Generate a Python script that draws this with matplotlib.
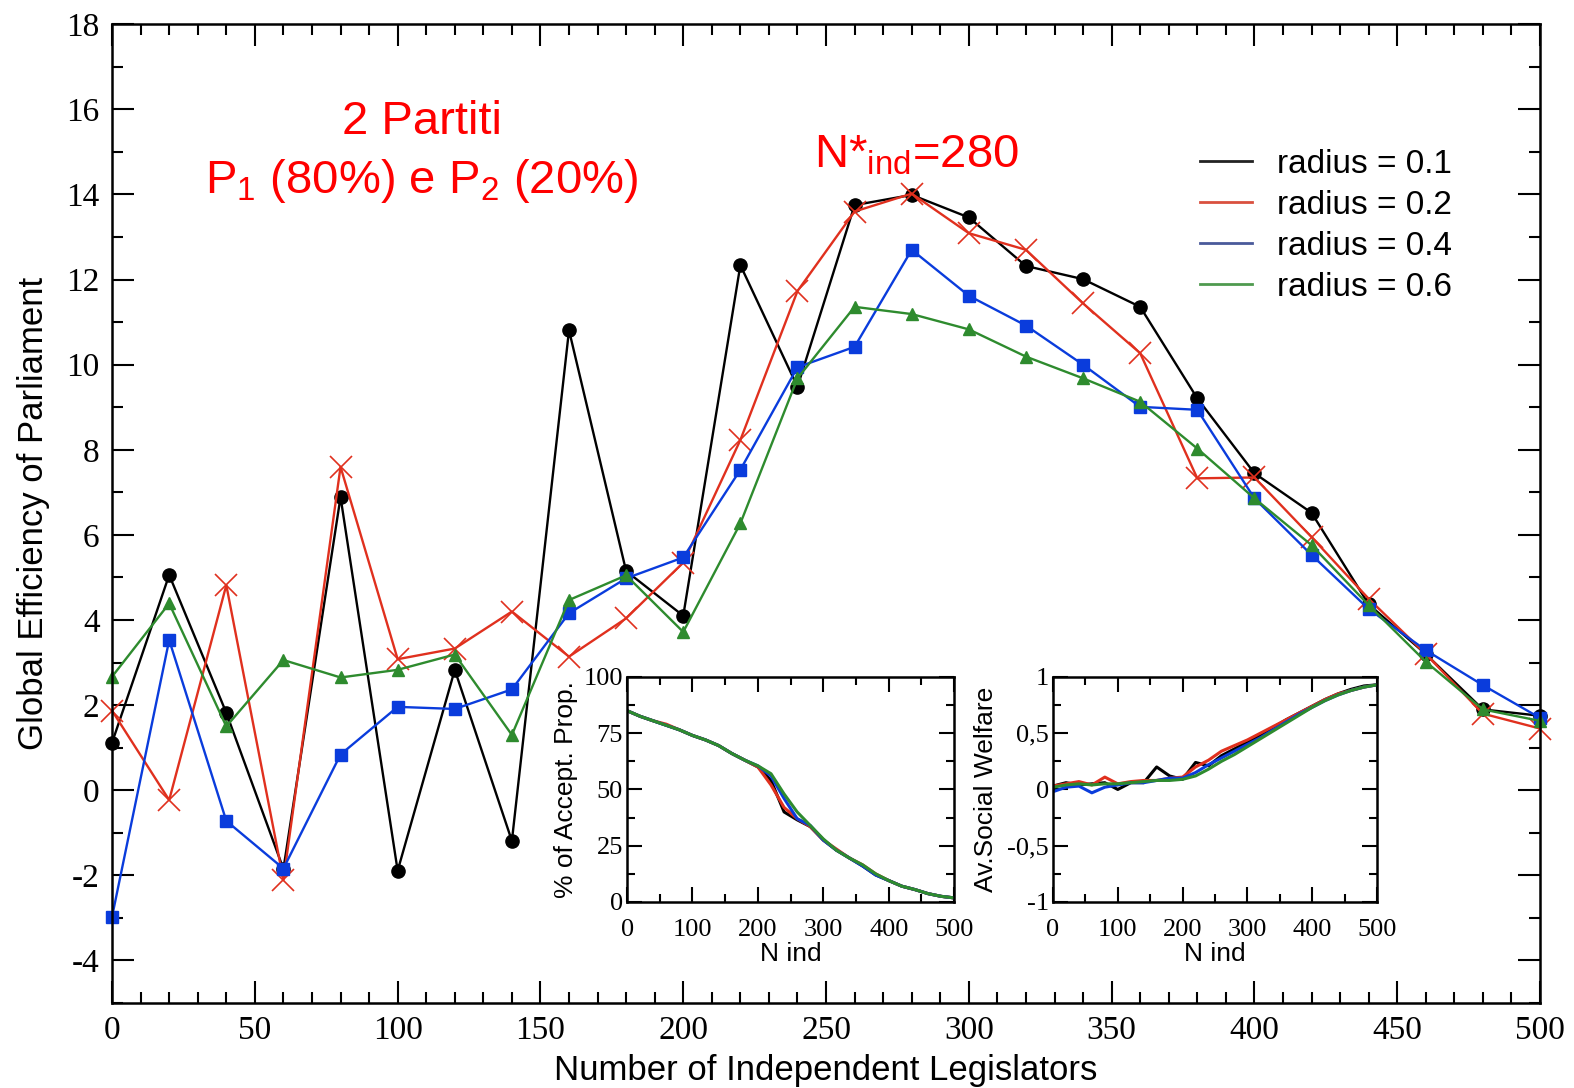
import matplotlib
matplotlib.use('Agg')
import matplotlib.pyplot as plt
from matplotlib.lines import Line2D
from matplotlib.ticker import MultipleLocator, FuncFormatter

plt.rcParams['font.family'] = ['Liberation Sans', 'DejaVu Sans']
plt.rcParams['mathtext.fontset'] = 'custom'
plt.rcParams['mathtext.rm'] = 'Liberation Sans'
plt.rcParams['axes.unicode_minus'] = False

# number of independent legislators (x for every curve)
n_ind = list(range(0, 501, 20))
radius_labels = ['radius = 0.1', 'radius = 0.2', 'radius = 0.4', 'radius = 0.6']

# main panel: global efficiency of parliament
eff_r01 = [1.12, 5.06, 1.82, -1.85, 6.89, -1.89, 2.83, -1.19, 10.81, 5.15, 4.1, 12.34, 9.48,
           13.75, 13.99, 13.46, 12.32, 12.01, 11.36, 9.21, 7.45, 6.52, 4.37, 3.2, 1.9, 1.75]
eff_r02 = [1.87, -0.23, 4.82, -2.11, 7.6, 3.08, 3.33, 4.2, 3.14, 4.04, 5.35, 8.23, 11.73,
           13.6, 14.02, 13.09, 12.7, 11.44, 10.27, 7.33, 7.35, 5.95, 4.5, 3.2, 1.8, 1.45]
eff_r04 = [-2.97, 3.53, -0.72, -1.84, 0.84, 1.96, 1.91, 2.37, 4.16, 4.98, 5.47, 7.53, 9.94,
           10.42, 12.7, 11.62, 10.92, 10.0, 9.01, 8.94, 6.86, 5.53, 4.26, 3.29, 2.47, 1.7]
eff_r06 = [2.67, 4.39, 1.5, 3.06, 2.65, 2.83, 3.19, 1.3, 4.47, 5.05, 3.72, 6.27, 9.68,
           11.36, 11.19, 10.83, 10.19, 9.68, 9.13, 8.03, 6.86, 5.76, 4.35, 3.02, 1.9, 1.63]

# inset 1: % of accepted proposals
acc_r01 = [85, 82.5, 80.5, 78.5, 76.5, 74, 72, 69.5, 66, 63, 60, 54, 40, 36.5, 33.5, 27.5,
           23, 19.5, 16, 12, 9.5, 7, 5.5, 3.7, 2.5, 1.8]
acc_r02 = [85, 82.5, 80.5, 79, 76.5, 74, 72, 69.5, 66, 63, 60, 52, 42, 37, 33.5, 27.5,
           23.5, 19.5, 16.5, 12.5, 9.5, 7, 5.5, 3.7, 2.5, 1.8]
acc_r04 = [85, 82.5, 80.5, 78.5, 76.5, 74, 72, 69.5, 66, 63, 60.5, 56, 46, 37, 34, 27.5,
           23, 19.5, 16, 12, 9.5, 7, 5.5, 3.7, 2.5, 1.8]
acc_r06 = [85, 82.5, 80.5, 78.5, 76.5, 74, 72, 69.5, 66, 63, 60.5, 57, 48, 40, 34, 28,
           23, 19.5, 16.5, 12.5, 9.5, 7, 5.5, 3.7, 2.5, 1.8]

# inset 2: average social welfare
sw_r01 = [0.03, 0.06, 0.04, 0.05, 0.06, 0.0, 0.06, 0.06, 0.2, 0.12, 0.09, 0.24, 0.21,
          0.3, 0.36, 0.42, 0.48, 0.55, 0.62, 0.68, 0.74, 0.8, 0.85, 0.89, 0.92, 0.93]
sw_r02 = [0.03, 0.05, 0.07, 0.04, 0.11, 0.05, 0.07, 0.08, 0.08, 0.1, 0.11, 0.2, 0.26,
          0.34, 0.39, 0.44, 0.5, 0.56, 0.62, 0.68, 0.74, 0.8, 0.85, 0.88, 0.91, 0.93]
sw_r04 = [-0.02, 0.02, 0.03, -0.03, 0.02, 0.04, 0.06, 0.06, 0.08, 0.1, 0.1, 0.15, 0.22,
          0.28, 0.34, 0.4, 0.46, 0.53, 0.6, 0.67, 0.73, 0.79, 0.84, 0.88, 0.91, 0.93]
sw_r06 = [0.02, 0.04, 0.05, 0.04, 0.05, 0.05, 0.06, 0.07, 0.08, 0.08, 0.09, 0.12, 0.18,
          0.25, 0.31, 0.38, 0.45, 0.52, 0.59, 0.66, 0.73, 0.79, 0.84, 0.88, 0.91, 0.93]

black = '#000000'
red = '#e0301e'
blue = '#0a3cdc'
green = '#2e8b2e'
legend_colors = ['#222222', '#d9503f', '#4a5a9a', '#4f9a4f']

fig = plt.figure(figsize=(15.74, 10.88), dpi=100)
ax = fig.add_axes([0.0712, 0.0781, 0.9072, 0.8996])

# markers at x=0 and x=500 sit on the frame, so no clipping
ax.plot(n_ind, eff_r01, color=black, lw=1.7, marker='o', ms=9.5, clip_on=False)
ax.plot(n_ind, eff_r02, color=red, lw=1.7, marker='x', ms=16, mew=1.2, clip_on=False)
ax.plot(n_ind, eff_r04, color=blue, lw=1.7, marker='s', ms=8.5, clip_on=False)
ax.plot(n_ind, eff_r06, color=green, lw=1.7, marker='^', ms=9, clip_on=False)

ax.set_xlim(0, 500)
ax.set_ylim(-5, 18)
ax.set_xticks(range(0, 501, 50))
ax.set_yticks(range(-4, 19, 2))
ax.xaxis.set_minor_locator(MultipleLocator(10))
ax.yaxis.set_minor_locator(MultipleLocator(1))
ax.tick_params(which='both', direction='in', top=True, right=True, width=1.5)
ax.tick_params(which='major', length=16, labelsize=24, pad=9,
               labelfontfamily='Liberation Serif')
ax.tick_params(which='minor', length=8)
for sp in ax.spines.values():
    sp.set_linewidth(1.8)

ax.set_xlabel('Number of Independent Legislators', fontsize=25, labelpad=6)
ax.set_ylabel('Global Efficiency of Parliament', fontsize=25, labelpad=12)

# red annotations
ax.text(108.5, 15.42, '2 Partiti', color='red', fontsize=34, ha='center', va='baseline')
ax.text(108.5, 14.04, r'P$_\mathrm{1}$ (80%) e P$_\mathrm{2}$ (20%)', color='red',
        fontsize=34, ha='center', va='baseline')
ax.text(281.5, 14.63, r'N*$_\mathrm{ind}$=280', color='red', fontsize=34,
        ha='center', va='baseline')

handles = [Line2D([], [], color=c, lw=2) for c in legend_colors]
ax.legend(handles, radius_labels, loc='upper left',
          bbox_to_anchor=(1200 / 1574, 1 - 149 / 1088), bbox_transform=fig.transFigure,
          frameon=False, fontsize=24, handlelength=1.55, handletextpad=0.75,
          labelspacing=0.3, borderpad=0, borderaxespad=0)


def style_inset(a):
    a.set_xlim(0, 500)
    a.set_xticks(range(0, 501, 100))
    a.xaxis.set_minor_locator(MultipleLocator(50))
    a.tick_params(which='both', direction='in', top=True, right=True, width=1.5)
    a.tick_params(which='major', length=11, labelsize=19,
                  labelfontfamily='Liberation Serif')
    a.tick_params(axis='y', pad=3)
    a.tick_params(axis='x', pad=12)
    a.tick_params(which='minor', length=6)
    for sp in a.spines.values():
        sp.set_linewidth(1.8)
    a.set_xlabel('N ind', fontsize=19, labelpad=1)


# inset 1
ax1 = fig.add_axes([0.3984, 0.1710, 0.2078, 0.2068])
ax1.plot(n_ind, acc_r01, color=black, lw=2.2)
ax1.plot(n_ind, acc_r02, color=red, lw=2.2)
ax1.plot(n_ind, acc_r04, color=blue, lw=2.2)
ax1.plot(n_ind, acc_r06, color=green, lw=2.2)
ax1.set_ylim(0, 100)
ax1.set_yticks(range(0, 101, 25))
ax1.yaxis.set_minor_locator(MultipleLocator(12.5))
style_inset(ax1)
ax1.set_ylabel('% of Accept. Prop.', fontsize=19)
ax1.yaxis.set_label_coords(-0.15, 0.5)

# inset 2
ax2 = fig.add_axes([0.669, 0.1710, 0.2058, 0.2068])
ax2.plot(n_ind, sw_r01, color=black, lw=2.2)
ax2.plot(n_ind, sw_r02, color=red, lw=2.2)
ax2.plot(n_ind, sw_r04, color=blue, lw=2.2)
ax2.plot(n_ind, sw_r06, color=green, lw=2.2)
ax2.set_ylim(-1, 1)
ax2.set_yticks([-1, -0.5, 0, 0.5, 1])
ax2.yaxis.set_minor_locator(MultipleLocator(0.25))
ax2.yaxis.set_major_formatter(FuncFormatter(lambda v, p: ('%g' % v).replace('.', ',')))
style_inset(ax2)
ax2.set_ylabel('Av.Social Welfare', fontsize=19)
ax2.yaxis.set_label_coords(-0.17, 0.5)

fig.savefig('out.png', dpi=100)
